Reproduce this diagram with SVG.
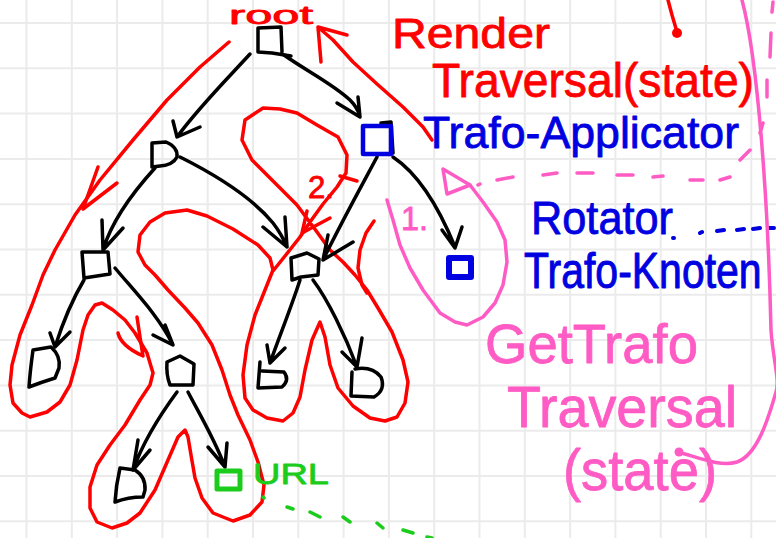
<svg xmlns="http://www.w3.org/2000/svg" width="776" height="538" viewBox="0 0 776 538">
<style>
.grid{fill:none;stroke:#ebebeb;stroke-width:2}
.k{fill:none;stroke:#000;stroke-width:3.5;stroke-linecap:round;stroke-linejoin:round}
.r{fill:none;stroke:#f00;stroke-width:3.5;stroke-linecap:round;stroke-linejoin:round}
.p{fill:none;stroke:#ff5bc4;stroke-width:3.5;stroke-linecap:round;stroke-linejoin:round}
.b{fill:none;stroke:#0000e0;stroke-linecap:round;stroke-linejoin:round}
.g{fill:none;stroke:#1ccc1c;stroke-linecap:round;stroke-linejoin:round}
text{font-family:"Liberation Sans",Arial,sans-serif;stroke-width:0.8;stroke-linejoin:round}
.tr{fill:#f00;stroke:#f00}.tb{fill:#0000e0;stroke:#0000e0}.tp{fill:#ff5bc4;stroke:#ff5bc4}.tg{fill:#1ccc1c;stroke:#1ccc1c}
</style>
<rect width="776" height="538" fill="#fff"/>
<path class="grid" d="M26.5,0V538M71.8,0V538M117.1,0V538M162.4,0V538M207.7,0V538M253,0V538M298.3,0V538M343.6,0V538M388.9,0V538M434.2,0V538M479.5,0V538M524.8,0V538M570.1,0V538M615.4,0V538M660.7,0V538M706,0V538M751.3,0V538M0,23H776M0,68.3H776M0,113.6H776M0,158.9H776M0,204.2H776M0,249.5H776M0,294.8H776M0,340.1H776M0,385.4H776M0,430.7H776M0,476H776M0,521.3H776"/>

<g id="traversal-render">
<path class="r" d="M229,42 L200,67 L167,100 L133,140 L100,180 L75,215 L55,250 L43,275 L32,305 L20,335 L12,365 L10,385 L13,403 L22,413 L30,417 L47,412 L60,402 L70,385 L77,360 L83,330 L88,315 L95,305 L102,303 L113,310 L125,320 L135,333 L147,353 L153,373 L150,385 L140,400 L125,425 L110,445 L97,465 L90,487 L90,508 L97,522 L112,528 L127,523 L140,513 L155,490 L168,460 L178,437 L185,430 L188,437 L191,455 L195,478 L202,498 L213,513 L233,521 L250,515 L262,502 L264,485 L258,462 L250,440 L238,415 L230,395 L222,370 L212,345 L198,323 L185,308 L168,290 L155,275 L145,265 L138,252 L140,235 L150,222 L165,213 L187,210 L207,216 L233,229 L258,245 L270,258 L273,270 L265,290 L255,315 L247,345 L243,375 L245,398 L253,410 L267,418 L283,421 L293,413 L300,397 L305,370 L312,340 L320,322 L325,337 L330,365 L338,388 L353,406 L370,418 L385,421 L397,417 L405,403 L408,382 L403,360 L392,332 L378,308 L367,290 L355,275 L343,262 L330,250 L317,232 L297,205 L273,181 L252,160 L242,140 L245,120 L263,108 L280,109 L297,113 L317,125 L338,137 L347,155 L346,173 L337,187 L323,204 L310,222 L300,237 L285,256 L273,271"/>
<path class="r" d="M98,167 L83,209 L117,183"/>
<path class="r" d="M374,221 L366,233 L360,250 L358,268 L362,285 L367,293"/>
<path class="r" d="M432,140 L423,127 L403,107 L377,84 L353,62 L333,40 L318,27 M321,62 L318,27 L347,35"/>
<path class="r" d="M118,333 Q121,346 143,356 M137,317 L140,337 L143,356"/>
<path class="r" d="M307,211 L302,233 L330,218 M340,176 L357,181"/>
<text class="tr" x="308" y="198" font-size="32" textLength="26" lengthAdjust="spacingAndGlyphs">2.</text>
<text class="tr" x="229" y="24" font-size="26" textLength="84" lengthAdjust="spacingAndGlyphs">root</text>
</g>

<g id="connectors">
<path class="k" d="M250,54 C228,78 198,108 177,137 M173,121 L177,137 L200,127"/>
<path class="k" d="M284,55 C305,70 333,84 350,100 C355,105 358,110 360,116 M337,103 L360,117 L358,97"/>
<path class="k" d="M155,168 C135,190 112,220 103,250 M102,220 L103,250 L123,228"/>
<path class="k" d="M180,157 C210,172 250,195 273,223 C280,232 284,240 287,247 M263,227 L287,247 L285,217"/>
<path class="k" d="M377,157 C362,185 340,225 323,260 M328,235 L323,260 L353,242"/>
<path class="k" d="M393,157 C420,175 440,210 455,247 M442,230 L455,248 L462,227"/>
<path class="k" d="M84,280 C72,300 62,325 55,347 M50,333 L55,347 L70,332"/>
<path class="k" d="M115,268 C135,292 158,315 173,345 M153,335 L173,345 L165,325"/>
<path class="k" d="M177,392 C160,415 142,445 133,470 M138,440 L133,470 L150,450"/>
<path class="k" d="M188,392 C200,415 215,440 225,467 M208,447 L225,467 L227,443"/>
<path class="k" d="M300,280 C292,305 280,335 270,363 M267,345 L270,363 L285,348"/>
<path class="k" d="M313,280 C328,300 345,335 357,367 M342,352 L357,367 L362,338"/>
</g>

<g id="root"><path class="k" d="M258,28 L281,27 L282,52 M258,28 L258,52 L272,53 L291,56"/></g>
<g id="n-left"><path class="k" d="M152,143 L166,142 Q178,147 177,157 Q173,165 160,166 L152,167 Z"/></g>
<g id="n-ll"><path class="k" d="M82,252 L108,252 L110,274 L84,278 Z"/></g>
<g id="n-lll"><path class="k" d="M33,350 L51,347 Q61,356 59,368 L55,378 Q42,382 29,387 Q30,372 33,350 Z"/></g>
<g id="n-llr"><path class="k" d="M167,362 L180,356 L194,364 L193,385 L170,385 Q166,375 167,362 Z"/></g>
<g id="n-bl"><path class="k" d="M120,468 L135,470 Q146,477 145,490 L143,497 Q128,497 115,502 Q116,485 120,468 Z"/></g>
<g id="n-mid"><path class="k" d="M291,258 L307,253 L319,259 L318,275 L301,277 L292,280 Z"/></g>
<g id="n-rl"><path class="k" d="M260,362 L258,388 L282,387 Q290,380 284,372 L262,371"/></g>
<g id="n-rr"><path class="k" d="M352,372 L351,396 L374,397 Q386,390 381,377 Q372,366 355,369"/></g>
<g id="n-url">
<rect class="g" x="217" y="471" width="23" height="18" stroke-width="5"/>
<text class="tg" x="253" y="484" font-size="29" textLength="76" lengthAdjust="spacingAndGlyphs">URL</text>
<path class="g" stroke-width="3.5" d="M263,497 l1,1 M287,507 L293,509 M310,512 L320,517 M343,517 L350,522 M377,523 L383,528 M403,530 L413,533 M427,537 L432,538"/>
</g>
<g id="n-trafo-app">
<path class="k" stroke-width="3" d="M381,123 L391,122 L393,153"/>
<rect class="b" x="363" y="126" width="28" height="28" stroke-width="4.5"/>
<text class="tb" x="423" y="148" font-size="45" textLength="316" lengthAdjust="spacingAndGlyphs">Trafo-Applicator</text>
</g>
<g id="n-trafo-knoten">
<rect class="b" x="449" y="258" width="22" height="19" stroke-width="6"/>
<text class="tb" x="531" y="234" font-size="46" textLength="142" lengthAdjust="spacingAndGlyphs">Rotator</text>
<path class="b" stroke-width="4" d="M673,238 l1,0 M700,233 l2,-1 M717,231 L724,230 M737,230 L744,229 M753,229 L760,228 M768,228 L774,228"/>
<text class="tb" transform="translate(524,288) scale(1,1.2)" font-size="41">Trafo-Knoten</text>
</g>

<g id="render-traversal">
<text class="tr" x="392" y="48" font-size="42" textLength="158" lengthAdjust="spacingAndGlyphs">Render</text>
<text class="tr" x="432" y="97" font-size="48" textLength="322" lengthAdjust="spacingAndGlyphs">Traversal(state)</text>
<path class="r" d="M668,0 L672,15 L677,32"/>
<circle cx="677" cy="33" r="5" fill="#f00"/>
</g>

<g id="gettrafo-traversal">
<path class="p" d="M387,200 L393,220 L400,245 L410,268 L423,290 L440,313 L455,322 L467,325 L483,317 L495,303 L503,285 L507,262 L505,240 L497,222 L483,202 L470,185"/>
<path class="p" d="M470,185 L443,169 L447,194 Z"/>
<text class="tp" x="401" y="230" font-size="34" textLength="27" lengthAdjust="spacingAndGlyphs">1.</text>
<path class="p" d="M478,185 l2,-1 M497,180 L513,177 M543,175 L557,173 M577,173 L593,173 M617,175 L633,175 M653,177 L663,176 M690,180 L703,180 M720,180 L730,177 M740,160 L750,150 M760,133 L763,123 M767,97 L767,80 M770,57 L771,33 M772,12 L773,2"/>
<path class="p" d="M742,0 C758,60 768,200 771,330 C773,360 780,380 776,392 C768,420 757,455 737,462 C720,467 700,458 678,452"/>
<circle cx="679" cy="452" r="4.5" fill="#ff5bc4"/>
<text class="tp" x="485" y="363" font-size="56" textLength="213" lengthAdjust="spacingAndGlyphs">GetTrafo</text>
<text class="tp" x="507" y="427" font-size="58" textLength="230" lengthAdjust="spacingAndGlyphs">Traversal</text>
<text class="tp" x="563" y="490" font-size="58" textLength="154" lengthAdjust="spacingAndGlyphs">(state)</text>
</g>
</svg>
